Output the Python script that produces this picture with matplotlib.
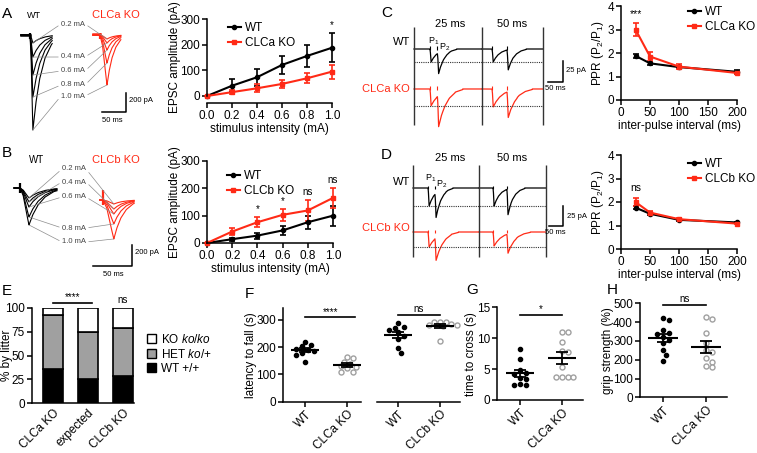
import numpy as np
import matplotlib
matplotlib.use("agg")
import matplotlib.pyplot as plt
from matplotlib.lines import Line2D
from matplotlib.transforms import blended_transform_factory

W, H = 757, 453
RED = "#ff2a16"
GREY = "#a0a0a0"

# ---- data -------------------------------------------------------------
stim_ma = [0.0, 0.2, 0.4, 0.6, 0.8, 1.0]
a_wt = [0, 40, 73, 121, 156, 188]
a_wt_err = [0, 25, 33, 35, 43, 56]
a_ko = [0, 15, 30, 47, 69, 95]
a_ko_err = [0, 8, 15, 14, 20, 27]
a_sig_x = [1.0]
a_sig = ["*"]

b_wt = [0, 14, 27, 46, 76, 100]
b_wt_err = [0, 6, 11, 15, 24, 36]
b_ko = [0, 42, 76, 103, 119, 165]
b_ko_err = [0, 12, 19, 23, 37, 36]
b_sig_x = [0.4, 0.6, 0.8, 1.0]
b_sig = ["*", "*", "ns", "ns"]

ipi_ms = [25, 50, 100, 200]
c_wt = [1.88, 1.56, 1.40, 1.20]
c_wt_err = [0.08, 0.05, 0.05, 0.08]
c_ko = [3.0, 1.85, 1.42, 1.15]
c_ko_err = [0.26, 0.20, 0.12, 0.06]
d_wt = [1.76, 1.50, 1.24, 1.13]
d_wt_err = [0.05, 0.04, 0.04, 0.03]
d_ko = [2.0, 1.55, 1.27, 1.08]
d_ko_err = [0.18, 0.06, 0.04, 0.03]

litters = ["CLCa KO", "expected", "CLCb KO"]
wt_pct = [36, 25, 28]
het_pct = [57, 50, 51]
ko_pct = [7, 25, 21]

f_wt_a = [221, 208, 204, 195, 190, 185, 180, 172, 147]
f_ko_a = [165, 162, 147, 140, 131, 128, 123, 110, 110]
f_wt_b = [290, 275, 272, 265, 255, 240, 230, 197, 178]
f_ko_b = [294, 294, 291, 286, 283, 281, 278, 223]

g_wt = [8.3, 6.7, 4.8, 4.4, 4.2, 3.6, 3.4, 2.6, 2.5, 2.5]
g_ko = [11.0, 11.0, 9.4, 8.0, 7.8, 5.3, 3.7, 3.7, 3.7, 3.7]

h_wt = [420, 412, 358, 340, 335, 320, 305, 287, 252, 225, 195]
h_ko = [425, 418, 344, 287, 250, 243, 207, 190, 165, 160]

# EPSC waveform template (normalised), rise and decay phases
rise_frac = [0.0, 0.35, 0.7, 1.0]
rise_val = [0.0, -0.2, -0.65, -1.0]
decay_frac = [0.0, 0.1, 0.25, 0.45, 0.7, 1.0]
decay_val = [-1.0, -0.74, -0.47, -0.25, -0.1, -0.02]

intensity_labels = ["0.2 mA", "0.4 mA", "0.6 mA", "0.8 mA", "1.0 mA"]
a_amp_wt = [84, 232, 421, 653, 1000]
a_amp_ko = [42, 84, 158, 295, 526]
b_amp_wt = [95, 133, 181, 276, 352]
b_amp_ko = [38, 86, 133, 228, 371]

pair_ipi = [25, 50]
c_p1_wt = [15.5, 15.5]
c_p2_wt = [25.0, 24.0]
c_p1_ko = [20.0, 21.4]
c_p2_ko = [37.0, 31.0]
d_p1_wt = [22.5, 22.5]
d_p2_wt = [30.6, 32.0]
d_p1_ko = [18.8, 17.5]
d_p2_ko = [28.0, 24.0]

# ---- style ------------------------------------------------------------
plt.rcParams["font.family"] = ["Liberation Sans", "DejaVu Sans"]
plt.rcParams["mathtext.fontset"] = "custom"
plt.rcParams["mathtext.rm"] = "Liberation Sans"
plt.rcParams["mathtext.it"] = "Liberation Sans:italic"
plt.rcParams["font.size"] = 8.5
plt.rcParams["axes.linewidth"] = 1.1

fig = plt.figure(figsize=(W / 100, H / 100), dpi=100)


def box(x0, y0, x1, y1):
    return [x0 / W, 1 - y1 / H, (x1 - x0) / W, (y1 - y0) / H]


def ftext(x, y, s, **kw):
    kw.setdefault("va", "center")
    return fig.text(x / W, 1 - y / H, s, **kw)


def graph_ax(x0, y0, x1, y1, xlim, ylim):
    ax = fig.add_axes(box(x0, y0, x1, y1))
    ax.set_xlim(xlim)
    ax.set_ylim(ylim)
    for s in ("top", "right"):
        ax.spines[s].set_visible(False)
    ax.tick_params(width=1.1, length=3.5, labelsize=8.5, pad=1.5)
    ax.patch.set_alpha(0)
    return ax


def ylab(ax, s, x_right):
    # x_right: pixel column where the rotated label's right edge sits
    ax.set_ylabel(s)
    tr = blended_transform_factory(fig.transFigure, ax.transAxes)
    ax.yaxis.set_label_coords(x_right / W, 0.5, transform=tr)


def trace_ax(x0, y0, x1, y1, ox, oy, ms_px, pa_px):
    ax = fig.add_axes(box(x0, y0, x1, y1))
    ax.set_xlim((x0 - ox) * ms_px, (x1 - ox) * ms_px)
    ax.set_ylim((oy - y1) * pa_px, (oy - y0) * pa_px)
    ax.axis("off")
    return ax


def epsc(t, onset, amp, rise, decay):
    kt = np.concatenate([onset + np.array(rise_frac) * rise,
                         onset + rise + np.array(decay_frac[1:]) * decay])
    kv = amp * np.concatenate([rise_val, decay_val[1:]])
    return np.interp(t, kt, kv, left=0.0, right=0.0)


def legend(ax, handles, labels, x, y):
    ax.legend(handles, labels, loc="upper left", frameon=False,
              bbox_to_anchor=(x / W, 1 - y / H), bbox_transform=fig.transFigure,
              borderpad=0, borderaxespad=0, handlelength=1.1, handletextpad=0.35,
              labelspacing=0.25, fontsize=8.5)


def wt_handle():
    return Line2D([], [], color="black", marker="o", ms=3, lw=1.5)


def ko_handle():
    return Line2D([], [], color=RED, marker="s", ms=3, lw=1.5)


def curve(ax, x, y, e, color, marker):
    ax.errorbar(x, y, yerr=e, color=color, marker=marker, ms=3, lw=1.5,
                elinewidth=1.2, capsize=2.5, capthick=1.2, clip_on=False)


def swarm(vals, pos, px_per_y, px_per_x, diam=5.2):
    placed = []
    xs = []
    for v in vals:
        k = 0
        while True:
            for off in ([0] if k == 0 else [k, -k]):
                ox = off * diam * 0.55
                ok = all((ox - px) ** 2 + ((v - py) * px_per_y) ** 2 >= diam ** 2
                         for px, py in placed)
                if ok:
                    break
            if ok:
                break
            k += 1
        placed.append((ox, v))
        xs.append(pos + ox / px_per_x)
    return xs


def dots(ax, vals, pos, filled, px_per_y, px_per_x):
    xs = swarm(vals, pos, px_per_y, px_per_x)
    if filled:
        ax.scatter(xs, vals, s=9, color="black", zorder=3, clip_on=False)
    else:
        ax.scatter(xs, vals, s=13, facecolor="white", edgecolor=GREY,
                   linewidth=1.0, zorder=3, clip_on=False)
    m = np.mean(vals)
    sem = np.std(vals, ddof=1) / np.sqrt(len(vals))
    ax.hlines(m, pos - 0.34, pos + 0.34, color="black", lw=1.5, zorder=4)
    ax.errorbar([pos], [m], yerr=[sem], color="black", lw=0, elinewidth=1.3,
                capsize=4.5, capthick=1.3, zorder=4)


def sig_line(ax, x0, x1, y, s, dy):
    ax.plot([x0, x1], [y, y], color="black", lw=1.2, clip_on=False)
    ax.text((x0 + x1) / 2, y + dy, s, ha="center", va="bottom", fontsize=7)


# ---- A: traces -----------------------------------------------------------
axt = trace_ax(0, 0, 150, 145, 21, 35, 50 / 24, 200 / 19)
t_wt = np.linspace(0, 65, 500)
t_ko = np.linspace(150, 208, 500)
for amp in a_amp_wt:
    axt.plot(t_wt, epsc(t_wt, 18.75, amp, 6, 55), color="black", lw=0.8)
for amp in a_amp_ko:
    axt.plot(t_ko, epsc(t_ko, 164.6, amp, 14.6, 40), color=RED, lw=0.8)
axt.vlines(18.75, -40, 25, color="black", lw=1.6)
axt.vlines(164.6, -40, 25, color=RED, lw=1.6)
axt.plot([0, 18.75], [0, 0], color="black", lw=1.8)
axt.plot([150, 164.6], [15, 15], color=RED, lw=1.8)
axt.plot([168.7, 218.7, 218.7], [-810, -810, -610], color="black", lw=1.1)
label_y = [24, 57, 71, 85, 96]
for lab, ly, aw, ak in zip(intensity_labels, label_y, a_amp_wt, a_amp_ko):
    for target, rel, col in (((24.75, -aw), (0, 0.5), "#444444"),
                             ((179.2, -ak), (1, 0.5), "none")):
        axt.annotate(lab, xy=target, xytext=(61 / W, 1 - ly / H),
                     textcoords="figure fraction", va="center", ha="left",
                     fontsize=5.5, color=col,
                     arrowprops=dict(arrowstyle="-", color="#8c8c8c", lw=0.5,
                                     relpos=rel, shrinkA=0, shrinkB=0))
ftext(129, 101, "200 pA", fontsize=5.5)
ftext(102, 121, "50 ms", fontsize=5.5)
ftext(27, 15, "WT", fontsize=6.5)
ftext(92, 15, "CLCa KO", fontsize=8, color=RED)
ftext(2, 14, "A", fontsize=11)

# ---- A: graph ------------------------------------------------------------
ax = graph_ax(207, 19, 332, 96, (0, 1.0), (0, 300))
ax.spines["bottom"].set_position(("outward", 5))
curve(ax, stim_ma, a_wt, a_wt_err, "black", "o")
curve(ax, stim_ma, a_ko, a_ko_err, RED, "s")
for sx, s in zip(a_sig_x, a_sig):
    i = stim_ma.index(sx)
    ax.text(sx, a_wt[i] + a_wt_err[i] + 33, s, ha="center", va="center", fontsize=7)
ax.set_xticks(stim_ma)
ax.set_xticklabels([f"{v:.1f}" for v in stim_ma])
ax.set_yticks([0, 100, 200, 300])
ax.set_xlabel("stimulus intensity (mA)", labelpad=1)
ylab(ax, "EPSC amplitude (pA)", 181)
legend(ax, [wt_handle(), ko_handle()], ["WT", "CLCa KO"], 228, 22)

# ---- B: traces -----------------------------------------------------------
axt = trace_ax(0, 150, 150, 290, 14, 188, 50 / 39, 200 / 21)
t_wt = np.linspace(0, 55, 500)
t_ko = np.linspace(110, 154, 500)
ko_base = -(200 - 188) * 200 / 21
for amp in b_amp_wt:
    axt.plot(t_wt, epsc(t_wt, 7.7, amp, 11.5, 45), color="black", lw=0.8)
for amp in b_amp_ko:
    axt.plot(t_ko, ko_base + epsc(t_ko, 114, amp, 14, 35), color=RED, lw=0.8)
axt.vlines(7.7, -50, 50, color="black", lw=1.6)
axt.vlines(114, ko_base - 50, ko_base + 100, color=RED, lw=1.6)
axt.plot([101, 151, 151], [-743, -743, -543], color="black", lw=1.1)
label_y = [169, 182, 197, 228, 242]
for lab, ly, aw, ak in zip(intensity_labels, label_y, b_amp_wt, b_amp_ko):
    for target, rel, col in (((19.2, -aw), (0, 0.5), "#444444"),
                             ((128, ko_base - ak), (1, 0.5), "none")):
        axt.annotate(lab, xy=target, xytext=(62 / W, 1 - ly / H),
                     textcoords="figure fraction", va="center", ha="left",
                     fontsize=5.5, color=col,
                     arrowprops=dict(arrowstyle="-", color="#8c8c8c", lw=0.5,
                                     relpos=rel, shrinkA=0, shrinkB=0))
ftext(135, 253, "200 pA", fontsize=5.5)
ftext(103, 274, "50 ms", fontsize=5.5)
ftext(29, 160, "WT", fontsize=7)
ftext(92, 160, "CLCb KO", fontsize=8, color=RED)
ftext(2, 153, "B", fontsize=11)

# ---- B: graph ------------------------------------------------------------
ax = graph_ax(207, 161, 333, 243, (0, 1.0), (0, 300))
curve(ax, stim_ma, b_wt, b_wt_err, "black", "o")
curve(ax, stim_ma, b_ko, b_ko_err, RED, "s")
for sx, s in zip(b_sig_x, b_sig):
    i = stim_ma.index(sx)
    ax.text(sx, b_ko[i] + b_ko_err[i] + 29, s, ha="center", va="center", fontsize=7)
ax.set_xticks(stim_ma)
ax.set_xticklabels([f"{v:.1f}" for v in stim_ma])
ax.set_yticks([0, 100, 200, 300])
ax.set_xlabel("stimulus intensity (mA)", labelpad=1)
ylab(ax, "EPSC amplitude (pA)", 181)
legend(ax, [wt_handle(), ko_handle()], ["WT", "CLCb KO"], 227, 170)


# ---- C / D: paired-pulse traces -----------------------------------------
def paired(x0, y0, x1, y1, ox, oy, ms_px, pa_px, dividers, stim1, ko_base,
           p1w, p2w, p1k, p2k, div_y, bar_x, bar_y):
    axp = trace_ax(x0, y0, x1, y1, ox, oy, ms_px, pa_px)
    for i, ipi in enumerate(pair_ipi):
        t = np.linspace(dividers[i], dividers[i + 1], 800)
        s1, s2 = stim1[i], stim1[i] + ipi
        yw = epsc(t, s1, p1w[i], 4, 60) + epsc(t, s2, p2w[i], 4, 60)
        yk = ko_base + epsc(t, s1, p1k[i], 4, 80) + epsc(t, s2, p2k[i], 4, 80)
        axp.plot(t, yw, color="black", lw=0.9)
        axp.plot(t, yk, color=RED, lw=0.9)
        for s in (s1, s2):
            axp.vlines(s, -1, 3, color="black", lw=0.8)
            axp.vlines(s, ko_base - 1, ko_base + 3, color=RED, lw=0.8)
    axp.hlines([-p1w[0], ko_base - p1k[0]], dividers[0], dividers[-1],
               color="#333333", lw=0.8, linestyles=(0, (1, 1)))
    axp.vlines(dividers, div_y[0], div_y[1], color="#333333", lw=1.0)
    axp.plot([bar_x - 50, bar_x, bar_x], [bar_y[1], bar_y[1], bar_y[0]],
             color="black", lw=1.1)
    return axp


paired(405, 15, 600, 135, 414, 49, 50 / 15, 25 / 21, [0, 227, 430], [53, 260],
       -47.6, c_p1_wt, c_p2_wt, c_p1_ko, c_p2_ko, (-90, 26), 497, (-14.3, -39.3))
ftext(450, 24, "25 ms", fontsize=8, ha="center")
ftext(512, 24, "50 ms", fontsize=8, ha="center")
ftext(410, 42, "WT", fontsize=8, ha="right")
ftext(410, 89, "CLCa KO", fontsize=8, ha="right", color=RED)
ftext(428, 41, "P$_\\mathregular{1}$", fontsize=6.5)
ftext(439, 47, "P$_\\mathregular{2}$", fontsize=6.5)
ftext(566, 71, "25 pA", fontsize=5.5)
ftext(545, 88, "50 ms", fontsize=5.5)
ftext(381, 13, "C", fontsize=11)

paired(405, 160, 600, 262, 413, 188, 3.6, 1.25, [0, 238, 479], [54, 288],
       -55.0, d_p1_wt, d_p2_wt, d_p1_ko, d_p2_ko, (-86, 28.75), 540, (-22.5, -47.5))
ftext(450, 158, "25 ms", fontsize=8, ha="center")
ftext(512, 158, "50 ms", fontsize=8, ha="center")
ftext(410, 182, "WT", fontsize=8, ha="right")
ftext(410, 228, "CLCb KO", fontsize=8, ha="right", color=RED)
ftext(425, 178, "P$_\\mathregular{1}$", fontsize=6.5)
ftext(436, 184, "P$_\\mathregular{2}$", fontsize=6.5)
ftext(567, 216, "25 pA", fontsize=5.5)
ftext(545, 233, "50 ms", fontsize=5.5)
ftext(381, 155, "D", fontsize=11)

# ---- C / D: PPR graphs ---------------------------------------------------
for (y0, y1, wt, wte, ko, koe, sig, kolab, ly) in (
        (6, 100, c_wt, c_wt_err, c_ko, c_ko_err, "***", "CLCa KO", 6),
        (155, 249, d_wt, d_wt_err, d_ko, d_ko_err, "ns", "CLCb KO", 158)):
    ax = graph_ax(621, y0, 737, y1, (0, 200), (0, 4))
    curve(ax, ipi_ms, wt, wte, "black", "o")
    curve(ax, ipi_ms, ko, koe, RED, "s")
    top = max(wt[0] + wte[0], ko[0] + koe[0])
    ax.text(ipi_ms[0], top + 0.4, sig, ha="center", va="center", fontsize=7.5)
    ax.set_xticks([0, 50, 100, 150, 200])
    ax.set_yticks([0, 1, 2, 3, 4])
    ax.set_xlabel("inter-pulse interval (ms)", labelpad=1)
    ylab(ax, "PPR (P$_\\mathregular{2}$/P$_\\mathregular{1}$)", 606)
    legend(ax, [wt_handle(), ko_handle()], ["WT", kolab], 688, ly)

# ---- E: stacked bars -----------------------------------------------------
ax = graph_ax(32, 308, 134, 403, (-0.6, 2.314), (0, 100))
xe = np.arange(len(litters))
bw = 0.57
ax.bar(xe, wt_pct, bw, color="black", edgecolor="black", lw=1.2)
ax.bar(xe, het_pct, bw, bottom=wt_pct, color="#a0a0a0", edgecolor="black", lw=1.2)
ax.bar(xe, ko_pct, bw, bottom=np.add(wt_pct, het_pct), color="white",
       edgecolor="black", lw=1.2)
ax.set_yticks([0, 25, 50, 75, 100])
ax.set_xticks(xe)
ax.set_xticklabels(litters, rotation=45, ha="right", rotation_mode="anchor")
ax.tick_params(axis="x", length=0, pad=3)
ylab(ax, "% by litter", 13)
sig_line(ax, 0, 1.1, 105, "****", 1)
ax.text(2, 103, "ns", ha="center", va="bottom", fontsize=7)
hs = [plt.Rectangle((0, 0), 1, 1, facecolor=c, edgecolor="black", lw=1.0)
      for c in ("white", "#a0a0a0", "black")]
ax.legend(hs, ["KO $\\mathit{ko/ko}$", "HET $\\mathit{ko}$/+", "WT +/+"],
          loc="upper left", frameon=False, bbox_to_anchor=(147 / W, 1 - 333 / H),
          bbox_transform=fig.transFigure, borderpad=0, borderaxespad=0,
          handlelength=0.8, handleheight=0.8, handletextpad=0.35,
          labelspacing=0.15, fontsize=8.5)
ftext(2, 291, "E", fontsize=11)

# ---- F -------------------------------------------------------------------
ppy = 0.272
ax1 = graph_ax(283, 308, 361, 401.7, (-0.524, 1.333), (0, 344))
ax2 = graph_ax(377, 308, 460, 401.7, (-0.5, 1.476), (0, 344))
ax2.spines["left"].set_visible(False)
ax2.set_yticks([])
dots(ax1, f_wt_a, 0, True, ppy, 42)
dots(ax1, f_ko_a, 1, False, ppy, 42)
dots(ax2, f_wt_b, 0, True, ppy, 42)
dots(ax2, f_ko_b, 1, False, ppy, 42)
ax1.set_yticks([0, 100, 200, 300])
for a, labs in ((ax1, ["WT", "CLCa KO"]), (ax2, ["WT", "CLCb KO"])):
    a.set_xticks([0, 1])
    a.set_xticklabels(labs, rotation=45, ha="right", rotation_mode="anchor")
ylab(ax1, "latency to fall (s)", 257)
sig_line(ax1, 0, 1.2, 310, "****", 2)
sig_line(ax2, 0, 1.0, 320, "ns", 2)
ftext(245, 294, "F", fontsize=11)

# ---- G -------------------------------------------------------------------
ax = graph_ax(497, 307.3, 583, 400, (-0.548, 1.5), (0, 15))
dots(ax, g_wt, 0, True, 6.18, 42)
dots(ax, g_ko, 1, False, 6.18, 42)
ax.set_yticks([0, 5, 10, 15])
ax.set_xticks([0, 1])
ax.set_xticklabels(["WT", "CLCa KO"], rotation=45, ha="right", rotation_mode="anchor")
ylab(ax, "time to cross (s)", 477)
sig_line(ax, 0, 1, 13.8, "*", 0.1)
ftext(466, 290, "G", fontsize=11)

# ---- H -------------------------------------------------------------------
ax = graph_ax(640, 303.3, 727, 397.3, (-0.535, 1.488), (0, 500))
dots(ax, h_wt, 0, True, 0.188, 43)
dots(ax, h_ko, 1, False, 0.188, 43)
ax.set_yticks([0, 100, 200, 300, 400, 500])
ax.set_xticks([0, 1])
ax.set_xticklabels(["WT", "CLCa KO"], rotation=45, ha="right", rotation_mode="anchor")
ylab(ax, "grip strength (%)", 614)
sig_line(ax, 0, 1, 490, "ns", 8)
ftext(607, 290, "H", fontsize=11)

fig.savefig("out.png", dpi=100)
